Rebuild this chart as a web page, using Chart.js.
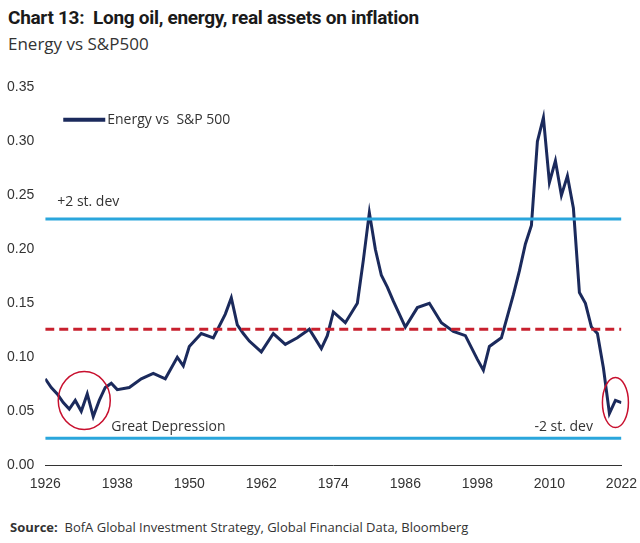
<!DOCTYPE html>
<html><head><meta charset="utf-8">
<script src="https://cdn.jsdelivr.net/npm/chart.js@4"></script>
<style>
body{margin:0;background:#fff;font-family:"Open Sans",Roboto,sans-serif;width:640px;height:543px;position:relative;overflow:hidden}
#t{position:absolute;left:8px;top:6px;font-size:19px;font-weight:bold;color:#1a1a1a;font-family:"Liberation Sans Narrow","Roboto",sans-serif;letter-spacing:-0.3px}
#st{position:absolute;left:8px;top:32px;font-size:17px;color:#333}
#src{position:absolute;left:10px;top:518px;font-size:13px;color:#333}
#wrap{position:absolute;left:0;top:76px;width:640px;height:420px}
</style></head><body>
<div id="t">Chart 13: &nbsp;Long oil, energy, real assets on inflation</div>
<div id="st">Energy vs S&amp;P500</div>
<div id="wrap"><canvas id="c"></canvas></div>
<div id="src"><b>Source:</b>&nbsp; BofA Global Investment Strategy, Global Financial Data, Bloomberg</div>
<script>
// Данные
const years = [1926,1927,1928,1929,1930,1931,1932,1933,1934,1935,1936,1937,1938,1940,1942,1944,1946,1948,1949,1950,1952,1954,1956,1957,1958,1959,1960,1962,1964,1966,1968,1970,1972,1973,1974,1976,1978,1979,1980,1981,1982,1983,1984,1986,1988,1990,1992,1994,1996,1998,1999,2000,2002,2004,2005,2006,2007,2008,2009,2010,2011,2012,2013,2014,2015,2016,2017,2018,2019,2020,2021,2022];
const ratio = [0.080,0.072,0.066,0.058,0.052,0.060,0.050,0.066,0.045,0.060,0.072,0.076,0.070,0.072,0.080,0.085,0.080,0.100,0.092,0.110,0.122,0.118,0.140,0.155,0.130,0.122,0.115,0.105,0.122,0.112,0.118,0.126,0.108,0.120,0.142,0.132,0.150,0.190,0.234,0.200,0.176,0.165,0.152,0.128,0.146,0.150,0.132,0.124,0.120,0.098,0.088,0.110,0.118,0.158,0.180,0.205,0.222,0.300,0.322,0.262,0.282,0.250,0.268,0.238,0.160,0.150,0.128,0.122,0.090,0.048,0.060,0.058];
const upperBand = 0.228;
const meanLine = 0.126;
const lowerBand = 0.025;
const xTicks = [1926,1938,1950,1962,1974,1986,1998,2010,2022];

const hline = (v, color, dash, w) => ({
  data: [{x:1926,y:v},{x:2022,y:v}], borderColor: color, borderWidth: w,
  borderDash: dash, pointRadius: 0, showLine: true
});

// Подписи и овалы
const extras = {
  id: 'extras',
  afterDatasetsDraw(chart) {
    const {ctx, scales:{x,y}} = chart;
    ctx.save();
    ctx.strokeStyle = '#c8102e'; ctx.lineWidth = 1.5;
    ctx.beginPath(); ctx.ellipse(x.getPixelForValue(1932.5), y.getPixelForValue(0.06), 26, 29, 0, 0, Math.PI*2); ctx.stroke();
    ctx.beginPath(); ctx.ellipse(x.getPixelForValue(2021), y.getPixelForValue(0.058), 13, 25, 0, 0, Math.PI*2); ctx.stroke();
    ctx.fillStyle = '#333'; ctx.font = '14px "Open Sans"';
    ctx.fillText('+2 st. dev', x.getPixelForValue(1928), y.getPixelForValue(0.24));
    ctx.fillText('Great Depression', x.getPixelForValue(1937), y.getPixelForValue(0.032));
    ctx.fillText('-2 st. dev', x.getPixelForValue(2007.5), y.getPixelForValue(0.032));
    // легенда
    const lx = x.getPixelForValue(1929), ly = y.getPixelForValue(0.32);
    ctx.strokeStyle = '#1b2a5c'; ctx.lineWidth = 4;
    ctx.beginPath(); ctx.moveTo(lx, ly); ctx.lineTo(lx+42, ly); ctx.stroke();
    ctx.textBaseline = 'middle';
    ctx.fillText('Energy vs  S&P 500', lx+44, ly);
    ctx.restore();
  }
};

new Chart(document.getElementById('c'), {
  type: 'scatter',
  data: { datasets: [
    hline(upperBand, '#2aa6dc', [], 3),
    hline(lowerBand, '#2aa6dc', [], 3),
    hline(meanLine, '#c8202e', [9,5], 3),
    { data: years.map((yr,i)=>({x:yr,y:ratio[i]})), borderColor:'#1b2a5c', borderWidth:3, pointRadius:0, showLine:true, tension:0 }
  ]},
  options: {
    responsive:true, maintainAspectRatio:false, animation:false,
    layout:{padding:{left:4,right:18,top:4}},
    plugins:{legend:{display:false}, tooltip:{enabled:false}},
    scales:{
      x:{type:'linear', min:1926, max:2022,
        afterBuildTicks: a => { a.ticks = xTicks.map(v=>({value:v})); },
        grid:{display:false}, border:{color:'#333'},
        ticks:{color:'#333', font:{size:14}, callback:v=>v}},
      y:{min:0, max:0.35, grid:{display:false}, border:{display:false},
        ticks:{stepSize:0.05, color:'#333', font:{size:14}, callback:v=>v.toFixed(2)}}
    }
  },
  plugins:[extras]
});
</script>
</body></html>
